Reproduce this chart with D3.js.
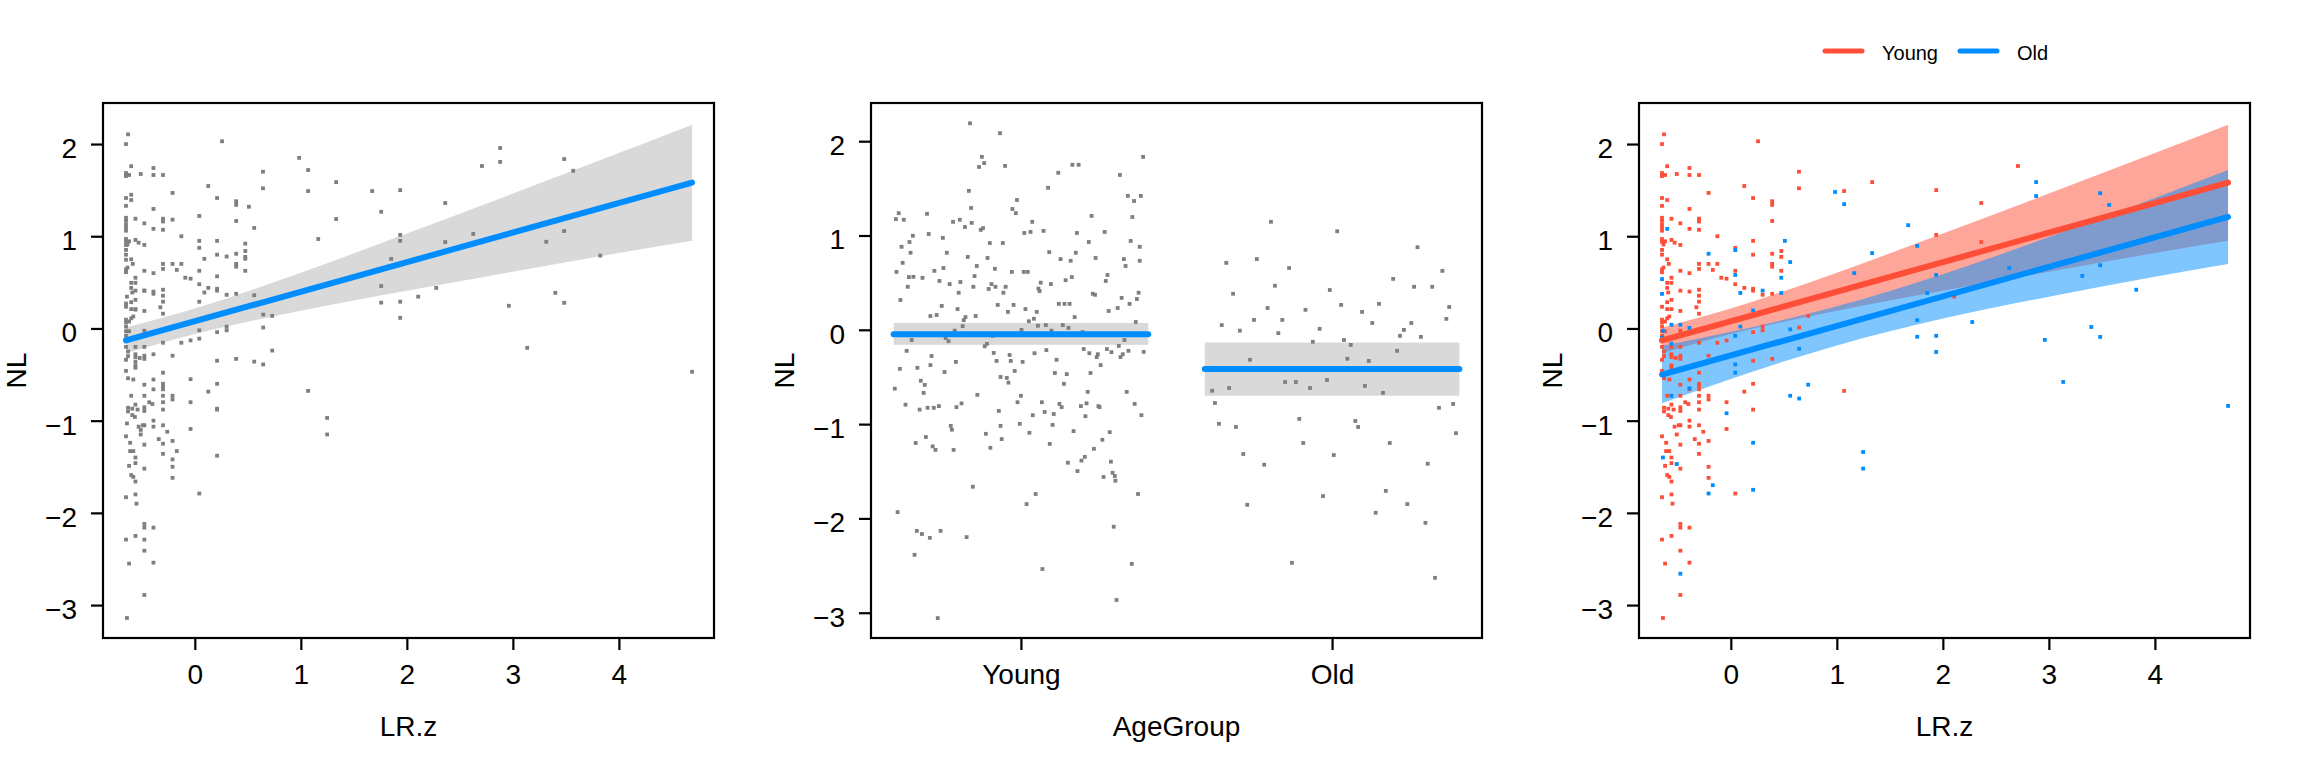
<!DOCTYPE html>
<html><head><meta charset="utf-8">
<script src="https://cdn.jsdelivr.net/npm/d3@7"></script>
<style>
html,body{margin:0;padding:0;background:#fff;}
svg{display:block;}
text{font-family:"Liberation Sans",Arial,sans-serif;fill:#000;}
</style>
</head><body>
<svg id="c" width="2304" height="768"></svg>
<script>
// ---------------- DATA ----------------
const xTicks = [0, 1, 2, 3, 4];
const yTicks = [-3, -2, -1, 0, 1, 2];
const levels = ["Young", "Old"];
const levelTickPos = [0.225, 0.775];
const levelSpan = [[0, 0.45], [0.55, 1]];
const xDomain = [-0.866, 4.897];
const yDomainLR = [-3.357, 2.445];
const yDomainAge = [-3.268, 2.405];
const xDomainAge = [-0.04, 1.04];

// partial residuals, Young group (LR.z, NL) - panels 1 and 3
const youngPts = [
[-0.63,2.105],[-0.649,2.0],[0.257,2.03],[-0.60,1.76],[-0.649,1.686],[-0.649,1.653],[-0.62,1.664],[-0.51,1.675],[-0.39,1.74],[-0.39,1.664],[-0.30,1.664],[0.643,1.70],[0.643,1.52],[0.127,1.545],[-0.21,1.47],[-0.649,1.415],[-0.60,1.393],[0.21,1.415],[0.39,1.38],[0.39,1.34],[-0.649,1.33],[-0.39,1.296],
[-0.649,1.20],[-0.649,1.17],[-0.649,1.13],[-0.649,1.10],[-0.649,1.06],[-0.56,1.19],[-0.476,1.14],[-0.30,1.19],[-0.30,1.16],[-0.39,1.08],[-0.30,1.07],[0.39,1.166],[-0.127,1.0],
[-0.649,0.97],[-0.649,0.94],[-0.62,0.945],[-0.635,0.91],[-0.56,0.96],[-0.53,0.93],[-0.476,0.906],[0.21,0.95],[0.042,0.874],[0.476,0.84],[-0.649,0.852],[-0.649,0.80],[0.21,0.80],[0.39,0.81],[0.476,0.776],
[-0.60,0.75],[-0.585,0.70],[-0.30,0.70],[-0.21,0.70],[-0.127,0.70],[0.39,0.70],[0.39,0.67],[-0.649,0.64],[-0.649,0.61],[-0.635,0.66],[-0.30,0.646],[-0.17,0.635],[-0.476,0.625],[-0.39,0.60],[0.042,0.625],[0.476,0.625],
[-0.56,0.55],[-0.09,0.55],[-0.04,0.54],[-0.60,0.495],[-0.56,0.495],[0.042,0.48],[0.127,0.44],[0.21,0.43],[0.21,0.41],[-0.60,0.44],[-0.59,0.39],[-0.476,0.41],[-0.39,0.40],[-0.30,0.42],[-0.30,0.355],[0.30,0.365],[0.39,0.376],
[-0.56,0.31],[-0.60,0.285],[-0.30,0.29],[-0.649,0.235],[-0.60,0.21],[-0.56,0.21],[-0.325,0.23],[-0.476,0.19],[-0.30,0.16],[-0.58,0.13],[-0.60,0.11],[-0.649,0.095],[-0.649,0.065],[-0.62,0.075],[-0.649,0.02],
[-0.476,-0.025],[-0.649,-0.03],[-0.62,-0.03],[-0.649,-0.08],[-0.649,-0.13],[-0.30,-0.155],[-0.127,-0.155],[-0.04,-0.13],[0.30,0.02],[0.30,-0.02],[0.21,-0.04],[0.645,0.01],
[-0.56,-0.2],[-0.56,-0.28],[-0.56,-0.31],[-0.56,-0.40],[-0.476,-0.2],[-0.476,-0.296],[-0.476,-0.33],[-0.52,-0.32],[-0.649,-0.34],[-0.63,-0.30],[-0.649,-0.2],[-0.63,-0.25],[-0.649,-0.46],[-0.56,-0.426],[-0.21,-0.296],[0.21,-0.35],[0.39,-0.33],[-0.30,-0.48],
[-0.63,-0.54],[-0.58,-0.554],[-0.39,-0.554],[-0.476,-0.61],[-0.30,-0.60],[-0.30,-0.63],[-0.30,-0.66],[-0.39,-0.66],[-0.60,-0.73],[-0.476,-0.73],[-0.30,-0.73],[-0.21,-0.73],[-0.21,-0.77],[0.127,-0.685],[0.21,-0.60],
[-0.56,-0.826],[-0.43,-0.80],[-0.40,-0.82],[-0.30,-0.80],[-0.04,-0.80],[-0.63,-0.86],[-0.63,-0.90],[-0.59,-0.87],[-0.54,-0.88],[-0.476,-0.855],[-0.476,-0.895],[-0.30,-0.88],[0.21,-0.88],[-0.59,-0.94],[-0.565,-0.96],
[-0.39,-1.0],[-0.53,-1.065],[-0.49,-1.05],[-0.476,-1.05],[-0.39,-1.065],[-0.30,-1.05],[-0.04,-1.09],[-0.26,-1.12],[-0.51,-1.15],[-0.649,-1.17],[-0.34,-1.2],[-0.61,-1.24],[-0.476,-1.26],[-0.30,-1.25],[-0.21,-1.22],
[-0.61,-1.33],[-0.58,-1.33],[-0.30,-1.36],[-0.56,-1.40],[-0.56,-1.46],[-0.62,-1.49],[-0.476,-1.52],[-0.21,-1.5],[-0.60,-1.59],[-0.58,-1.61],[-0.56,-1.66],[-0.21,-1.62],[-0.649,-1.83],[-0.56,-1.80],[0.042,-1.79],
[-0.55,-1.90],[-0.476,-2.12],[-0.476,-2.16],[-0.39,-2.16],[-0.649,-2.29],[-0.56,-2.25],[-0.476,-2.41],[-0.62,-2.55],[-0.39,-2.54],[-0.476,-2.89],[-0.64,-3.14],
[1.069,1.49],[1.333,1.587],[1.937,1.50],[2.708,1.762],[2.362,1.36],[1.937,1.015],[2.362,0.937],[0.73,0.136],[2.107,0.345],[1.069,-0.677]
];

// partial residuals, Old group, as drawn in panel 3 (own-group fit)
const oldPts3 = [
[-0.60,1.08],[-0.21,0.81],[0.042,0.85],[0.51,0.95],[0.56,0.72],[0.042,0.58],[0.476,0.55],[-0.649,0.535],[-0.649,0.375],[0.09,0.385],[0.30,0.41],[0.476,0.385],[0.21,0.195],[-0.56,0.04],[-0.476,0.04],[-0.39,0.006],[0.09,0.02],[0.56,-0.01],[-0.64,-0.025],[-0.649,-0.1],[0.042,-0.08],[-0.56,-0.166],[0.645,-0.22],[0.042,-0.39],[0.042,-0.48],
[-0.39,-0.65],[-0.56,-0.73],[-0.04,-0.92],[0.56,-0.73],[0.645,-0.76],[0.21,-1.24],[-0.64,-1.40],[-0.51,-1.47],[-0.17,-1.70],[-0.21,-1.79],[0.21,-1.75],[-0.476,-2.66],
[0.984,1.48],[1.069,1.348],[1.673,1.12],[2.88,1.587],[2.88,1.436],[3.484,1.467],[3.569,1.34],[1.333,0.817],[1.758,0.895],[1.164,0.60],[1.937,0.58],[1.852,0.384],[2.626,0.655],[3.315,0.57],[3.484,0.686],[3.824,0.42],
[1.758,0.09],[1.758,-0.09],[1.937,-0.08],[1.937,-0.255],[2.277,0.07],[2.962,-0.124],[3.40,0.016],[3.484,-0.092],[3.135,-0.58],[4.69,-0.84],[0.73,-0.61],[1.248,-1.34],[1.248,-1.52]
];

// Old group, as drawn in panel 1 (conditional on Young)
const oldPts1 = [
[-0.60,1.45],[-0.21,1.18],[0.042,1.22],[0.51,1.32],[0.56,1.09],[0.042,0.95],[0.476,0.92],[-0.649,0.905],[-0.649,0.745],[0.09,0.755],[0.30,0.78],[0.476,0.755],[0.21,0.565],[-0.56,0.41],[-0.476,0.41],[-0.39,0.376],[0.09,0.39],[0.56,0.36],[-0.64,0.345],[-0.649,0.27],[0.042,0.29],[-0.56,0.204],[0.645,0.15],[0.042,-0.02],[0.042,-0.11],
[-0.39,-0.28],[-0.56,-0.36],[-0.04,-0.55],[0.56,-0.36],[0.645,-0.39],[0.21,-0.87],[-0.64,-1.03],[-0.51,-1.10],[-0.17,-1.33],[-0.21,-1.42],[0.21,-1.38],[-0.476,-2.29],
[0.984,1.85],[1.069,1.718],[1.673,1.49],[2.88,1.957],[2.88,1.806],[3.484,1.837],[3.569,1.71],[1.333,1.187],[1.758,1.265],[1.164,0.97],[1.937,0.95],[1.852,0.754],[2.626,1.025],[3.315,0.94],[3.484,1.056],[3.824,0.79],
[1.758,0.46],[1.758,0.28],[1.937,0.29],[1.937,0.115],[2.277,0.44],[2.962,0.246],[3.40,0.386],[3.484,0.278],[3.135,-0.21],[4.69,-0.47],[0.73,-0.24],[1.248,-0.97],[1.248,-1.15]
];

// panel 2: [position within 0..1 factor axis, NL]
const youngPts2 = [
[0.135,2.19],[0.188,2.085],[0.156,1.834],[0.160,1.768],[0.151,1.727],[0.197,1.738],[0.441,1.834],[0.316,1.75],[0.327,1.75],[0.291,1.665],[0.40,1.642],[0.273,1.506],[0.133,1.473],[0.414,1.42],[0.437,1.42],[0.425,1.366],[0.218,1.377],[0.137,1.292],[0.210,1.281],[0.216,1.237],
[0.009,1.237],[0.059,1.23],[0.004,1.174],[0.018,1.167],[0.35,1.208],[0.422,1.196],[0.105,1.145],[0.117,1.167],[0.138,1.134],[0.245,1.145],[0.126,1.09],[0.154,1.06],[0.158,1.078],[0.231,1.027],[0.242,1.038],[0.265,1.049],[0.324,1.027],[0.373,1.038],
[0.034,0.997],[0.062,1.016],[0.087,0.975],[0.028,0.931],[0.170,0.92],[0.193,0.92],[0.345,0.931],[0.419,0.942],[0.014,0.88],[0.435,0.88],[0.030,0.817],[0.094,0.817],[0.275,0.824],[0.322,0.817],[0.131,0.773],[0.166,0.762],[0.295,0.75],[0.313,0.732],[0.357,0.762],[0.407,0.75],[0.435,0.732],
[0.016,0.71],[0.147,0.677],[0.410,0.677],[0.005,0.614],[0.072,0.625],[0.088,0.655],[0.179,0.647],[0.209,0.614],[0.23,0.614],[0.237,0.614],[0.027,0.559],[0.035,0.562],[0.051,0.551],[0.143,0.57],[0.378,0.581],[0.081,0.518],[0.118,0.507],[0.099,0.485],[0.26,0.5],[0.278,0.485],[0.304,0.526],[0.315,0.559],[0.375,0.518],
[0.173,0.485],[0.18,0.456],[0.168,0.433],[0.198,0.456],[0.141,0.456],[0.256,0.437],[0.258,0.411],[0.025,0.456],[0.194,0.393],[0.115,0.393],[0.352,0.382],[0.356,0.371],[0.433,0.393],[0.012,0.316],[0.085,0.253],[0.184,0.264],[0.212,0.264],[0.292,0.275],[0.302,0.275],[0.311,0.275],[0.403,0.338],[0.43,0.327],[0.417,0.275],
[0.113,0.22],[0.233,0.22],[0.253,0.19],[0.202,0.19],[0.396,0.231],[0.380,0.20],[0.065,0.146],[0.076,0.157],[0.145,0.146],[0.127,0.135],[0.124,0.102],[0.248,0.117],[0.239,0.091],[0.32,0.135],[0.428,0.083],[0.122,0.039],[0.255,0.043],[0.269,0.05],[0.299,0.05],[0.309,0.02],
[0.108,-0.009],[0.226,-0.001],[0.279,-0.009],[0.334,-0.024],[0.175,-0.064],[0.092,-0.086],[0.097,-0.12],[0.032,-0.108],[0.408,-0.108],[0.165,-0.149],[0.161,-0.175],[0.023,-0.223],[0.27,-0.215],[0.249,-0.248],[0.177,-0.245],[0.205,-0.267],[0.336,-0.204],[0.346,-0.248],[0.361,-0.259],[0.359,-0.289],
[0.377,-0.204],[0.385,-0.237],[0.398,-0.171],[0.405,-0.259],[0.401,-0.289],[0.415,-0.223],[0.442,-0.234],[0.067,-0.278],[0.288,-0.318],[0.11,-0.34],[0.182,-0.33],[0.207,-0.33],[0.228,-0.34],[0.366,-0.374],[0.065,-0.374],[0.011,-0.414],[0.042,-0.403],[0.214,-0.436],[0.09,-0.447],[0.285,-0.458],[0.306,-0.47],[0.348,-0.458],
[0.189,-0.5],[0.2,-0.51],[0.048,-0.54],[0.203,-0.56],[0.301,-0.573],[0.055,-0.584],[0.002,-0.624],[0.053,-0.669],[0.343,-0.658],[0.412,-0.658],[0.148,-0.69],[0.225,-0.70],[0.021,-0.794],[0.046,-0.846],[0.06,-0.827],[0.071,-0.827],[0.08,-0.809],[0.111,-0.82],[0.12,-0.78],[0.219,-0.768],[0.262,-0.768],
[0.293,-0.786],[0.297,-0.82],[0.331,-0.809],[0.341,-0.78],[0.362,-0.809],[0.364,-0.82],[0.426,-0.786],[0.186,-0.86],[0.267,-0.871],[0.283,-0.893],[0.246,-0.905],[0.339,-0.916],[0.438,-0.905],[0.101,-1.019],[0.103,-1.059],[0.189,-1.019],[0.223,-0.997],[0.281,-1.008],
[0.163,-1.103],[0.24,-1.092],[0.318,-1.074],[0.382,-1.085],[0.057,-1.137],[0.191,-1.159],[0.369,-1.166],[0.039,-1.2],[0.069,-1.236],[0.074,-1.273],[0.106,-1.273],[0.171,-1.251],[0.276,-1.21],[0.354,-1.262],[0.338,-1.347],[0.332,-1.387],[0.308,-1.409],[0.325,-1.498],[0.384,-1.398],
[0.387,-1.516],[0.391,-1.55],[0.392,-1.6],[0.371,-1.56],[0.14,-1.664],[0.251,-1.741],[0.235,-1.848],[0.432,-1.741],[0.007,-1.933],[0.041,-2.132],[0.05,-2.165],[0.064,-2.206],[0.083,-2.132],[0.129,-2.198],[0.389,-2.088],[0.037,-2.386],[0.421,-2.482],[0.263,-2.537],[0.394,-2.865],[0.078,-3.057]
];
const oldPts2 = [
[0.667,1.145],[0.784,1.045],[0.926,0.876],[0.588,0.71],[0.642,0.75],[0.699,0.655],[0.97,0.625],[0.883,0.54],[0.92,0.456],[0.952,0.456],[0.674,0.467],[0.771,0.422],[0.6,0.382],[0.661,0.231],[0.728,0.212],[0.791,0.264],[0.828,0.19],[0.858,0.275],[0.982,0.242],
[0.637,0.105],[0.687,0.105],[0.58,0.05],[0.612,-0.009],[0.68,-0.035],[0.753,0.01],[0.846,0.072],[0.915,0.072],[0.977,0.116],[0.902,-0.001],[0.895,-0.064],[0.932,-0.075],[0.741,-0.127],[0.796,-0.108],[0.808,-0.16],[0.89,-0.223],[0.630,-0.318],[0.802,-0.307],[0.84,-0.33],
[0.692,-0.554],[0.711,-0.554],[0.563,-0.646],[0.593,-0.617],[0.736,-0.617],[0.766,-0.532],[0.833,-0.595],[0.865,-0.669],[0.568,-0.776],[0.964,-0.827],[0.989,-0.786],[0.575,-0.997],[0.605,-1.03],[0.717,-0.945],[0.816,-0.967],[0.821,-1.03],[0.994,-1.096],
[0.724,-1.2],[0.877,-1.2],[0.618,-1.317],[0.655,-1.43],[0.778,-1.328],[0.944,-1.42],[0.759,-1.763],[0.87,-1.708],[0.908,-1.848],[0.625,-1.856],[0.852,-1.94],[0.94,-2.047],[0.704,-2.471],[0.957,-2.63]
];

// fitted lines (LR.z, NL) and confidence bands [LR.z, lower, upper]
const youngLine = [[-0.649,-0.13],[4.69,1.581]];
const oldLine = [[-0.649,-0.50],[4.69,1.209]];
const youngBand = [[-0.649,-0.27,0.01],[0,-0.06,0.216],[1,0.191,0.605],[2,0.408,1.03],[3,0.615,1.463],[4,0.818,1.902],[4.69,0.95,2.21]];
const oldBand = [[-0.649,-0.81,-0.19],[0,-0.547,-0.037],[1,-0.184,0.24],[2,0.107,0.589],[3,0.345,0.991],[4,0.561,1.415],[4.69,0.699,1.719]];
const ageFit = [-0.046, -0.415];
const ageLo = [-0.159, -0.699];
const ageHi = [0.072, -0.135];

// ---------------- LAYOUT ----------------
const C = {gray:"#7f7f7f", band:"#d9d9d9", blue:"#008dff", red:"#ff4e37",
           redBand:"rgba(255,78,55,0.5)", blueBand:"rgba(0,141,255,0.5)"};
const yTop = 103, yBot = 638;
const P = [{l:103,r:714},{l:871,r:1482},{l:1639,r:2250}];
const FS = 28, PS = 3.8, LW = 6;

const svg = d3.select("#c");
svg.append("rect").attr("width",2304).attr("height",768).attr("fill","#fff");

function axes(g, p, sx, sy, xt, xtl, xtitle) {
  const ax = g.append("g").attr("transform",`translate(0,${yBot})`)
    .call(d3.axisBottom(sx).tickValues(xt).tickFormat((d,i)=>xtl?xtl[i]:d3.format("d")(d)).tickSize(12).tickSizeOuter(0).tickPadding(14));
  const ay = g.append("g").attr("transform",`translate(${p.l},0)`)
    .call(d3.axisLeft(sy).tickValues(yTicks).tickFormat(d3.format("d")).tickSize(12).tickSizeOuter(0).tickPadding(14));
  [ax,ay].forEach(a=>{
    a.select(".domain").remove();
    a.selectAll("line").attr("stroke","#000").attr("stroke-width",2.2);
    a.selectAll("text").attr("font-size",FS).attr("font-family","Liberation Sans, Arial, sans-serif").attr("fill","#000");
  });
  ay.selectAll("text").attr("dy","0.48em");
  g.append("rect").attr("x",p.l).attr("y",yTop).attr("width",p.r-p.l).attr("height",yBot-yTop)
    .attr("fill","none").attr("stroke","#000").attr("stroke-width",2.2);
  g.append("text").attr("x",(p.l+p.r)/2).attr("y",736).attr("text-anchor","middle").attr("font-size",FS).text(xtitle);
  g.append("text").attr("transform",`translate(${p.l-77},${(yTop+yBot)/2}) rotate(-90)`)
    .attr("text-anchor","middle").attr("font-size",FS).text("NL");
}
function pts(g, data, sx, sy, col) {
  g.selectAll(null).data(data).join("rect")
    .attr("x",d=>sx(d[0])-PS/2).attr("y",d=>sy(d[1])-PS/2)
    .attr("width",PS).attr("height",PS).attr("fill",col);
}
function band(g, data, sx, sy, col) {
  g.append("path").datum(data)
    .attr("d", d3.area().x(d=>sx(d[0])).y0(d=>sy(d[1])).y1(d=>sy(d[2])).curve(d3.curveMonotoneX))
    .attr("fill",col);
}
function line(g, data, sx, sy, col) {
  g.append("path").datum(data)
    .attr("d", d3.line().x(d=>sx(d[0])).y(d=>sy(d[1])))
    .attr("fill","none").attr("stroke",col).attr("stroke-width",LW).attr("stroke-linecap","round");
}

// Panel 1
{
  const p = P[0], g = svg.append("g");
  const sx = d3.scaleLinear().domain(xDomain).range([p.l,p.r]);
  const sy = d3.scaleLinear().domain(yDomainLR).range([yBot,yTop]);
  band(g, youngBand, sx, sy, C.band);
  pts(g, youngPts, sx, sy, C.gray);
  pts(g, oldPts1, sx, sy, C.gray);
  line(g, youngLine, sx, sy, C.blue);
  axes(g, p, sx, sy, xTicks, null, "LR.z");
}
// Panel 2
{
  const p = P[1], g = svg.append("g");
  const sx = d3.scaleLinear().domain(xDomainAge).range([p.l,p.r]);
  const sy = d3.scaleLinear().domain(yDomainAge).range([yBot,yTop]);
  levels.forEach((lv,i)=>{
    g.append("rect").attr("x",sx(levelSpan[i][0])).attr("width",sx(levelSpan[i][1])-sx(levelSpan[i][0]))
      .attr("y",sy(ageHi[i])).attr("height",sy(ageLo[i])-sy(ageHi[i])).attr("fill",C.band);
  });
  pts(g, youngPts2, sx, sy, C.gray);
  pts(g, oldPts2, sx, sy, C.gray);
  levels.forEach((lv,i)=>{
    line(g, [[levelSpan[i][0],ageFit[i]],[levelSpan[i][1],ageFit[i]]], sx, sy, C.blue);
  });
  axes(g, p, sx, sy, levelTickPos, levels, "AgeGroup");
}
// Panel 3
{
  const p = P[2], g = svg.append("g");
  const sx = d3.scaleLinear().domain(xDomain).range([p.l,p.r]);
  const sy = d3.scaleLinear().domain(yDomainLR).range([yBot,yTop]);
  band(g, youngBand, sx, sy, C.redBand);
  band(g, oldBand, sx, sy, C.blueBand);
  pts(g, youngPts, sx, sy, C.red);
  pts(g, oldPts3, sx, sy, C.blue);
  line(g, youngLine, sx, sy, C.red);
  line(g, oldLine, sx, sy, C.blue);
  axes(g, p, sx, sy, xTicks, null, "LR.z");
  // legend
  const leg = [{label:"Young", col:C.red, x:1825}, {label:"Old", col:C.blue, x:1960}];
  leg.forEach(e=>{
    svg.append("line").attr("x1",e.x).attr("x2",e.x+37).attr("y1",51).attr("y2",51)
      .attr("stroke",e.col).attr("stroke-width",5).attr("stroke-linecap","round");
    svg.append("text").attr("x",e.x+57).attr("y",60).attr("font-size",20).text(e.label);
  });
}
</script>
</body></html>
